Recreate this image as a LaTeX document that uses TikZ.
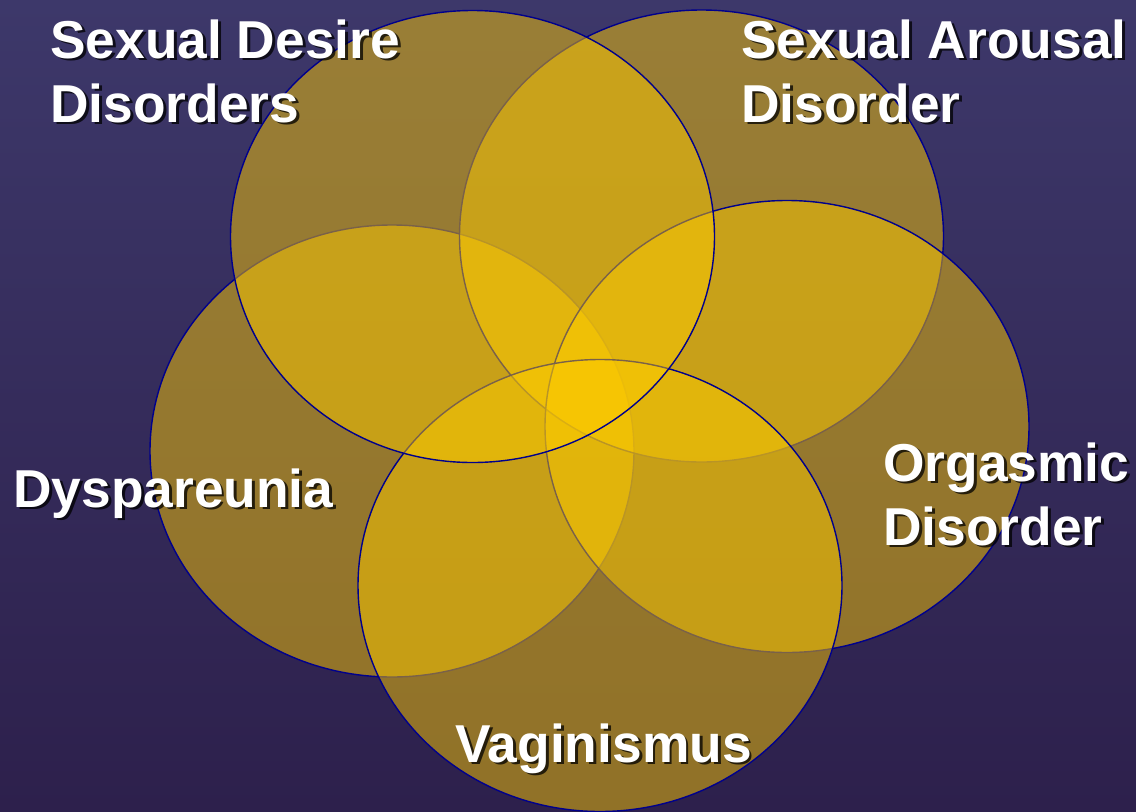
\documentclass[tikz,border=0pt]{standalone}
\usepackage{fontspec}
\setmainfont{Liberation Sans}
\definecolor{venngold}{RGB}{255,204,0}
\definecolor{vennedge}{RGB}{0,0,140}
\definecolor{bgtop}{RGB}{61,56,106}
\definecolor{bgbot}{RGB}{45,32,76}
\newcommand\shadowlabel[3]{%
  \node[lblshadow] at (#2) {#3};
  \node[lbl] (#1) at (#2) {#3};}
\begin{document}
\begin{tikzpicture}[x=0.75pt,y=-0.75pt,
  venn/.style={draw=vennedge, line width=1.05pt, fill=venngold, fill opacity=0.48},
  lbl/.style={text=white, font=\bfseries\fontsize{40}{48}\selectfont, inner sep=0pt, anchor=base west, align=left},
  lblshadow/.style={lbl, text=black, text opacity=0.75, xshift=2.2pt, yshift=-2.2pt}]
\useasboundingbox (0,0) rectangle (1136,811);
\shade[top color=bgtop, bottom color=bgbot] (0,0) rectangle (1136,811);
% ellipses (drawing order: lowest first)
\draw[venn] (392,451) ellipse [x radius=242, y radius=226];   % Dyspareunia
\draw[venn] (701.5,236) ellipse [x radius=242, y radius=226]; % Sexual Arousal
\draw[venn] (787,426.5) ellipse [x radius=242, y radius=226]; % Orgasmic
\draw[venn] (600,585.5) ellipse [x radius=242, y radius=226]; % Vaginismus
\draw[venn] (472.5,236.5) ellipse [x radius=242, y radius=226]; % Sexual Desire
% labels (base = baseline of the last line)
\coordinate (pdesire) at (50,122);
\coordinate (parousal) at (741,122);
\coordinate (pdysp) at (13,507);
\coordinate (porg) at (883,545);
\coordinate (pvag) at (455,762);
\shadowlabel{desire}{pdesire}{Sexual Desire\\Disorders}
\shadowlabel{arousal}{parousal}{Sexual Arousal\\Disorder}
\shadowlabel{dysp}{pdysp}{Dyspareunia}
\shadowlabel{org}{porg}{Orgasmic\\Disorder}
\shadowlabel{vag}{pvag}{Vaginismus}
\end{tikzpicture}
\end{document}
